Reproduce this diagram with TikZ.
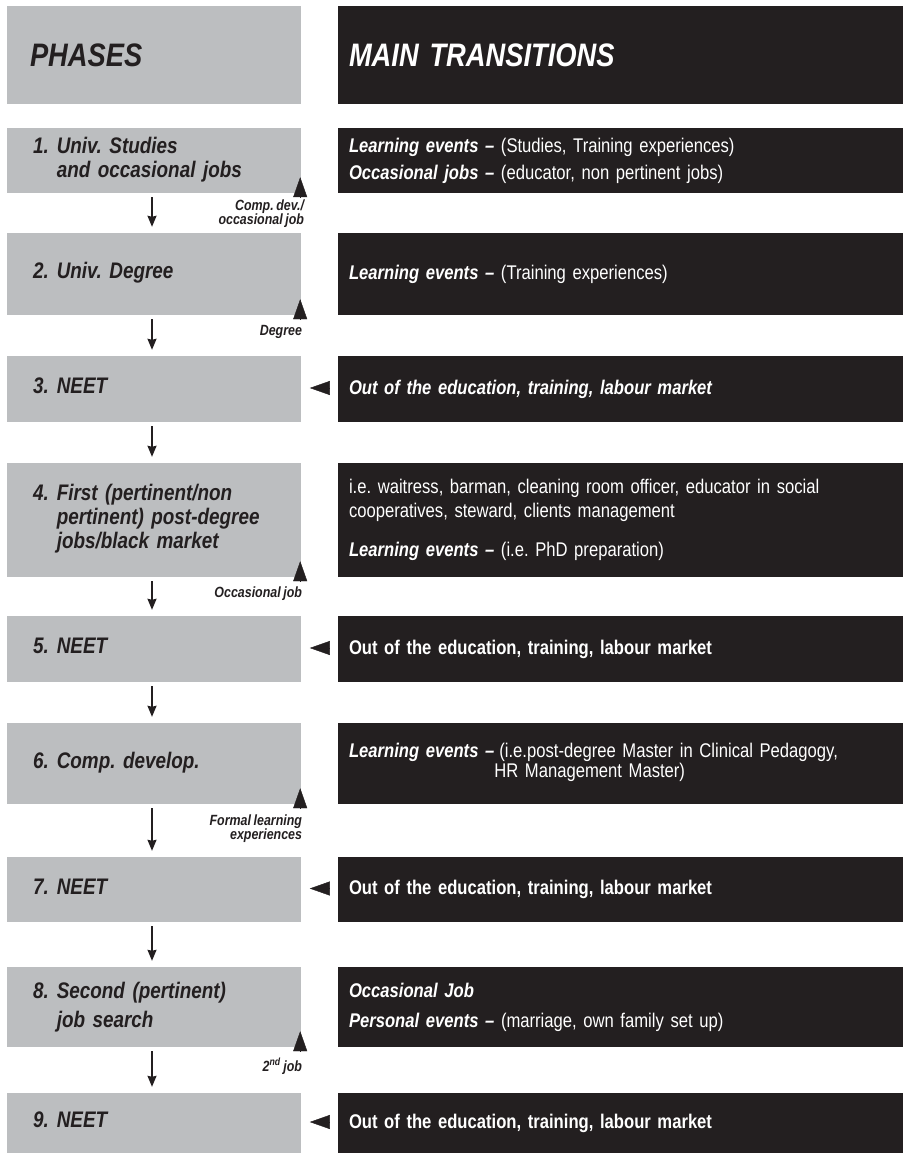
\documentclass[tikz,border=0pt]{standalone}
\usepackage{fontspec}
\setmainfont{Liberation Sans}[FakeStretch=0.84, WordSpace=0.75]
\usetikzlibrary{arrows.meta}
\definecolor{phasegray}{HTML}{BCBEC0}
\definecolor{ink}{HTML}{231F20}
\newcommand\evt[1]{\textbf{\textit{#1}}}
\newcommand\ph[2]{\begin{tabular}{@{}l@{\hspace{8pt}}l@{}}#1&#2\end{tabular}}
\frenchspacing

\begin{document}
\begin{tikzpicture}[x=1pt, y=-1pt, every node/.style={inner ysep=0pt},
	phase/.style={fill=phasegray, text=ink, text width=242pt, inner xsep=26pt, align=left,
		font=\fontsize{22.5}{24}\selectfont\bfseries\itshape},
	trans/.style={fill=ink, text=white, text width=543pt, inner xsep=11pt, align=left,
		font=\fontsize{19.8}{27}\selectfont},
	head/.style={font=\fontsize{32.5}{34}\selectfont\bfseries\itshape, minimum height=98pt},
	down/.style={-{Stealth[length=11pt,width=9pt,inset=1pt]}, line width=1.5pt, draw=ink, shorten <=4pt, shorten >=6pt},
	uptip/.style={-{Triangle[length=20pt,width=14pt]}, draw=ink, fill=ink},
	tag/.style={anchor=north east, inner sep=0pt, text=ink, align=right,
		font=\fontsize{14.8}{14}\selectfont\bfseries\itshape}]
	\useasboundingbox (0,0) rectangle (903,1155);
	
	% headings
	\node[phase, head, inner xsep=23pt, text width=248pt] (hp) at (154,55) {PHASES};
	\node[trans, head] (ht) at (620.5,55) {MAIN TRANSITIONS};
	
	% phases
	\node[phase, minimum height=65pt] (p1) at (154,160.5) {\ph{1.}{Univ. Studies\\&and occasional jobs}};
	\node[phase, minimum height=82pt] (p2) at (154,274) {\ph{2.}{Univ. Degree}};
	\node[phase, minimum height=66pt] (p3) at (154,389) {\ph{3.}{NEET}};
	\node[phase, minimum height=114pt] (p4) at (154,520) {\ph{4.}{First (pertinent/non\\&pertinent) post-degree\\&jobs/black market}};
	\node[phase, minimum height=66pt] (p5) at (154,649) {\ph{5.}{NEET}};
	\node[phase, minimum height=81pt] (p6) at (154,763.5) {\ph{6.}{Comp. develop.}};
	\node[phase, minimum height=65pt] (p7) at (154,889.5) {\ph{7.}{NEET}};
	\node[phase, minimum height=80pt, font=\fontsize{22.5}{29}\selectfont\bfseries\itshape] (p8) at (154,1007) {\ph{8.}{Second (pertinent)\\&job search}};
	\node[phase, minimum height=60pt] (p9) at (154,1123) {\ph{9.}{NEET}};
	
	% transitions
	\node[trans, minimum height=65pt] (t1) at (620.5,160.5) {\evt{Learning events --} (Studies, Training experiences)\\
		\evt{Occasional jobs --} (educator, non pertinent jobs)};
	\node[trans, minimum height=82pt] (t2) at (620.5,274) {\evt{Learning events --} (Training experiences)};
	\node[trans, minimum height=66pt] (t3) at (620.5,389) {\evt{Out of the education, training, labour market}};
	\node[trans, minimum height=114pt, font=\fontsize{19.8}{24}\selectfont] (t4) at (620.5,520) {i.e. waitress, barman, cleaning room officer, educator in social\\
		cooperatives, steward, clients management\\[15pt]
		\evt{Learning events --} (i.e. PhD preparation)};
	\node[trans, minimum height=66pt] (t5) at (620.5,649) {\textbf{Out of the education, training, labour market}};
	\node[trans, minimum height=81pt, font=\fontsize{19.8}{20}\selectfont] (t6) at (620.5,763.5) {\begin{tabular}{@{}l@{\hspace{5pt}}l@{}}\evt{Learning events --}&(i.e.post-degree Master in Clinical Pedagogy,\\
		&\hspace{-5pt}HR Management Master)\end{tabular}};
	\node[trans, minimum height=65pt] (t7) at (620.5,889.5) {\textbf{Out of the education, training, labour market}};
	\node[trans, minimum height=80pt, font=\fontsize{19.8}{30}\selectfont] (t8) at (620.5,1007) {\evt{Occasional Job}\\
		\evt{Personal events --} (marriage, own family set up)};
	\node[trans, minimum height=60pt] (t9) at (620.5,1123) {\textbf{Out of the education, training, labour market}};
	
	% sequence
	\draw[down] ([xshift=-2pt]p1.south) -- ([xshift=-2pt]p2.north);
	\draw[down] ([xshift=-2pt]p2.south) -- ([xshift=-2pt]p3.north);
	\draw[down] ([xshift=-2pt]p3.south) -- ([xshift=-2pt]p4.north);
	\draw[down] ([xshift=-2pt]p4.south) -- ([xshift=-2pt]p5.north);
	\draw[down] ([xshift=-2pt]p5.south) -- ([xshift=-2pt]p6.north);
	\draw[down] ([xshift=-2pt]p6.south) -- ([xshift=-2pt]p7.north);
	\draw[down] ([xshift=-2pt]p7.south) -- ([xshift=-2pt]p8.north);
	\draw[down] ([xshift=-2pt]p8.south) -- ([xshift=-2pt]p9.north);
	
	% exits
	\draw[uptip] ([xshift=-1pt,yshift=-4pt]p1.south east) -- ++(0,-20);
	\draw[uptip] ([xshift=-1pt,yshift=-4pt]p2.south east) -- ++(0,-20);
	\draw[uptip] ([xshift=-1pt,yshift=-4pt]p4.south east) -- ++(0,-20);
	\draw[uptip] ([xshift=-1pt,yshift=-4pt]p6.south east) -- ++(0,-20);
	\draw[uptip] ([xshift=-1pt,yshift=-4pt]p8.south east) -- ++(0,-20);
	\node[tag] (x1) at ([xshift=3pt,yshift=-6pt]p1.south east) {Comp. dev./\\occasional job};
	\node[tag] (x2) at ([xshift=1pt,yshift=-10pt]p2.south east) {Degree};
	\node[tag] (x4) at ([xshift=1pt,yshift=-9pt]p4.south east) {Occasional job};
	\node[tag] (x6) at ([xshift=1pt,yshift=-10pt]p6.south east) {Formal learning\\experiences};
	\node[tag] (x8) at ([xshift=1pt,yshift=-11pt]p8.south east) {2\textsuperscript{nd} job};
	
	% entries from outside
	\draw[uptip] ([xshift=-9pt,yshift=1pt]t3.west) -- ++(-19,0);
	\draw[uptip] ([xshift=-9pt,yshift=1pt]t5.west) -- ++(-19,0);
	\draw[uptip] ([xshift=-9pt,yshift=1pt]t7.west) -- ++(-19,0);
	\draw[uptip] ([xshift=-9pt,yshift=1pt]t9.west) -- ++(-19,0);
\end{tikzpicture}
\end{document}
